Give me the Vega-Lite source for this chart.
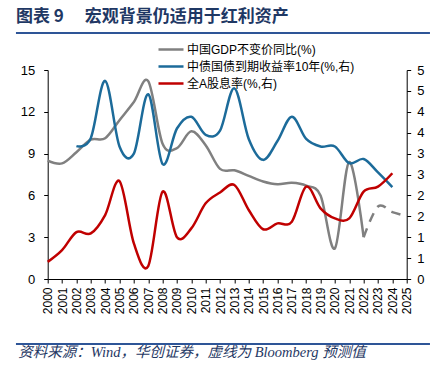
{
  "$schema": "https://vega.github.io/schema/vega-lite/v6.json",
  "width": 359,
  "height": 209,
  "autosize": {"type": "none"},
  "padding": {"left": 47.7, "top": 70, "right": 32.3, "bottom": 88},
  "background": "white",
  "title": {
    "text": "图表 9　 宏观背景仍适用于红利资产",
    "anchor": "start",
    "frame": "bounds",
    "orient": "top",
    "offset": 6,
    "dx": 1,
    "font": "Noto Sans CJK SC",
    "fontSize": 17,
    "fontWeight": "bold",
    "color": "#1f3864"
  },
  "config": {
    "view": {"stroke": null},
    "axis": {
      "grid": false,
      "labelFont": "Liberation Sans",
      "labelFontSize": 13,
      "labelColor": "#000000",
      "domainColor": "#000000",
      "tickColor": "#000000",
      "domainWidth": 1,
      "tickWidth": 1,
      "tickSize": 4,
      "labelOverlap": false,
      "labelBound": false,
      "labelFlush": false
    },
    "legend": {
      "orient": "none",
      "legendX": 109.3,
      "legendY": -27.75,
      "padding": 0,
      "symbolType": "stroke",
      "symbolSize": 625,
      "symbolStrokeWidth": 2.5,
      "clipHeight": 14.5,
      "rowPadding": 2,
      "labelFont": "Liberation Sans, Noto Sans CJK SC",
      "labelFontSize": 12,
      "labelColor": "#000000",
      "labelOffset": 2,
      "labelLimit": 400
    }
  },
  "datasets": {
    "gdp": [
      {"year": 2000, "series": "中国GDP不变价同比(%)", "value": 8.5},
      {"year": 2001, "series": "中国GDP不变价同比(%)", "value": 8.3},
      {"year": 2002, "series": "中国GDP不变价同比(%)", "value": 9.1},
      {"year": 2003, "series": "中国GDP不变价同比(%)", "value": 10.0},
      {"year": 2004, "series": "中国GDP不变价同比(%)", "value": 10.1},
      {"year": 2005, "series": "中国GDP不变价同比(%)", "value": 11.4},
      {"year": 2006, "series": "中国GDP不变价同比(%)", "value": 12.7},
      {"year": 2007, "series": "中国GDP不变价同比(%)", "value": 14.2},
      {"year": 2008, "series": "中国GDP不变价同比(%)", "value": 9.7},
      {"year": 2009, "series": "中国GDP不变价同比(%)", "value": 9.4},
      {"year": 2010, "series": "中国GDP不变价同比(%)", "value": 10.6},
      {"year": 2011, "series": "中国GDP不变价同比(%)", "value": 9.6},
      {"year": 2012, "series": "中国GDP不变价同比(%)", "value": 7.9},
      {"year": 2013, "series": "中国GDP不变价同比(%)", "value": 7.8},
      {"year": 2014, "series": "中国GDP不变价同比(%)", "value": 7.4},
      {"year": 2015, "series": "中国GDP不变价同比(%)", "value": 7.0},
      {"year": 2016, "series": "中国GDP不变价同比(%)", "value": 6.8},
      {"year": 2017, "series": "中国GDP不变价同比(%)", "value": 6.9},
      {"year": 2018, "series": "中国GDP不变价同比(%)", "value": 6.7},
      {"year": 2019, "series": "中国GDP不变价同比(%)", "value": 6.0},
      {"year": 2020, "series": "中国GDP不变价同比(%)", "value": 2.2},
      {"year": 2021, "series": "中国GDP不变价同比(%)", "value": 8.4},
      {"year": 2022, "series": "中国GDP不变价同比(%)", "value": 3.0}
    ],
    "gdpf": [
      {"year": 2022, "series": "中国GDP不变价同比(%)", "value": 3.0},
      {"year": 2023, "series": "中国GDP不变价同比(%)", "value": 5.2},
      {"year": 2024, "series": "中国GDP不变价同比(%)", "value": 4.8},
      {"year": 2025, "series": "中国GDP不变价同比(%)", "value": 4.5}
    ],
    "bond": [
      {"year": 2002, "series": "中债国债到期收益率10年(%,右)", "value": 3.18},
      {"year": 2003, "series": "中债国债到期收益率10年(%,右)", "value": 3.37},
      {"year": 2004, "series": "中债国债到期收益率10年(%,右)", "value": 4.74},
      {"year": 2005, "series": "中债国债到期收益率10年(%,右)", "value": 3.17},
      {"year": 2006, "series": "中债国债到期收益率10年(%,右)", "value": 3.0},
      {"year": 2007, "series": "中债国债到期收益率10年(%,右)", "value": 4.42},
      {"year": 2008, "series": "中债国债到期收益率10年(%,右)", "value": 2.75},
      {"year": 2009, "series": "中债国债到期收益率10年(%,右)", "value": 3.6},
      {"year": 2010, "series": "中债国债到期收益率10年(%,右)", "value": 3.88},
      {"year": 2011, "series": "中债国债到期收益率10年(%,右)", "value": 3.45},
      {"year": 2012, "series": "中债国债到期收益率10年(%,右)", "value": 3.55},
      {"year": 2013, "series": "中债国债到期收益率10年(%,右)", "value": 4.56},
      {"year": 2014, "series": "中债国债到期收益率10年(%,右)", "value": 3.35},
      {"year": 2015, "series": "中债国债到期收益率10年(%,右)", "value": 2.85},
      {"year": 2016, "series": "中债国债到期收益率10年(%,右)", "value": 3.3},
      {"year": 2017, "series": "中债国债到期收益率10年(%,右)", "value": 3.88},
      {"year": 2018, "series": "中债国债到期收益率10年(%,右)", "value": 3.35},
      {"year": 2019, "series": "中债国债到期收益率10年(%,右)", "value": 3.17},
      {"year": 2020, "series": "中债国债到期收益率10年(%,右)", "value": 3.17},
      {"year": 2021, "series": "中债国债到期收益率10年(%,右)", "value": 2.77},
      {"year": 2022, "series": "中债国债到期收益率10年(%,右)", "value": 2.87},
      {"year": 2023, "series": "中债国债到期收益率10年(%,右)", "value": 2.55},
      {"year": 2024, "series": "中债国债到期收益率10年(%,右)", "value": 2.2}
    ],
    "div": [
      {"year": 2000, "series": "全A股息率(%,右)", "value": 0.41},
      {"year": 2001, "series": "全A股息率(%,右)", "value": 0.69},
      {"year": 2002, "series": "全A股息率(%,右)", "value": 1.12},
      {"year": 2003, "series": "全A股息率(%,右)", "value": 1.09},
      {"year": 2004, "series": "全A股息率(%,右)", "value": 1.53},
      {"year": 2005, "series": "全A股息率(%,右)", "value": 2.34},
      {"year": 2006, "series": "全A股息率(%,右)", "value": 0.85},
      {"year": 2007, "series": "全A股息率(%,右)", "value": 0.31},
      {"year": 2008, "series": "全A股息率(%,右)", "value": 2.09},
      {"year": 2009, "series": "全A股息率(%,右)", "value": 1.0},
      {"year": 2010, "series": "全A股息率(%,右)", "value": 1.21},
      {"year": 2011, "series": "全A股息率(%,右)", "value": 1.81},
      {"year": 2012, "series": "全A股息率(%,右)", "value": 2.07},
      {"year": 2013, "series": "全A股息率(%,右)", "value": 2.25},
      {"year": 2014, "series": "全A股息率(%,右)", "value": 1.65},
      {"year": 2015, "series": "全A股息率(%,右)", "value": 1.19},
      {"year": 2016, "series": "全A股息率(%,右)", "value": 1.33},
      {"year": 2017, "series": "全A股息率(%,右)", "value": 1.37},
      {"year": 2018, "series": "全A股息率(%,右)", "value": 2.21},
      {"year": 2019, "series": "全A股息率(%,右)", "value": 1.69},
      {"year": 2020, "series": "全A股息率(%,右)", "value": 1.45},
      {"year": 2021, "series": "全A股息率(%,右)", "value": 1.45},
      {"year": 2022, "series": "全A股息率(%,右)", "value": 2.09},
      {"year": 2023, "series": "全A股息率(%,右)", "value": 2.21},
      {"year": 2024, "series": "全A股息率(%,右)", "value": 2.53}
    ],
    "frame": [
      {"x1": 1997.79, "x2": 2026.62, "y": 17.656},
      {"x1": 1997.79, "x2": 2026.62, "y": -4.665}
    ]
  },
  "layer": [
    {
      "data": {"name": "gdp"},
      "mark": {"type": "line", "interpolate": "cardinal", "strokeWidth": 2.5},
      "encoding": {
        "x": {
          "field": "year",
          "type": "quantitative",
          "scale": {"domain": [2000, 2025], "nice": false, "zero": false},
          "axis": {
            "values": [2000, 2001, 2002, 2003, 2004, 2005, 2006, 2007, 2008, 2009, 2010, 2011, 2012, 2013, 2014, 2015, 2016, 2017, 2018, 2019, 2020, 2021, 2022, 2023, 2024, 2025],
            "tickCount": 40,
            "format": "d",
            "labelAngle": -90,
            "labelFontSize": 12,
            "labelPadding": 4,
            "tickSize": 4,
            "title": "资料来源：Wind，华创证券，虚线为 Bloomberg 预测值",
            "titleX": -30,
            "titleY": 73,
            "titleAngle": 0,
            "titleAlign": "left",
            "titleBaseline": "middle",
            "titleFont": "Liberation Serif, Noto Sans CJK SC",
            "titleFontSize": 14.5,
            "titleFontStyle": "italic",
            "titleFontWeight": "normal",
            "titleColor": "#1f3864"
          }
        },
        "y": {
          "field": "value",
          "type": "quantitative",
          "scale": {"domain": [0, 15], "nice": false, "zero": false},
          "axis": {
            "orient": "left",
            "values": [0, 3, 6, 9, 12, 15],
            "tickCount": 20,
            "title": null,
            "labelPadding": 9
          }
        },
        "color": {
          "field": "series",
          "type": "nominal",
          "scale": {
            "domain": ["中国GDP不变价同比(%)", "中债国债到期收益率10年(%,右)", "全A股息率(%,右)"],
            "range": ["#808080", "#1c6b9a", "#c00000"]
          },
          "legend": {"title": null}
        }
      }
    },
    {
      "data": {"name": "gdpf"},
      "mark": {"type": "line", "interpolate": "cardinal", "strokeWidth": 2.5, "strokeDash": [9.5, 7]},
      "encoding": {
        "x": {"field": "year", "type": "quantitative"},
        "y": {"field": "value", "type": "quantitative", "scale": {"domain": [0, 15], "nice": false, "zero": false}, "axis": null},
        "color": {"field": "series", "type": "nominal"}
      }
    },
    {
      "data": {"name": "frame"},
      "mark": {"type": "rule", "color": "#2e5597", "strokeWidth": 2},
      "encoding": {
        "x": {"field": "x1", "type": "quantitative"},
        "x2": {"field": "x2"},
        "y": {"field": "y", "type": "quantitative", "scale": {"domain": [0, 15], "nice": false, "zero": false}, "axis": null}
      }
    },
    {
      "data": {"name": "bond"},
      "mark": {"type": "line", "interpolate": "cardinal", "strokeWidth": 2.5},
      "encoding": {
        "x": {"field": "year", "type": "quantitative"},
        "y": {
          "field": "value",
          "type": "quantitative",
          "scale": {"domain": [0, 5], "nice": false, "zero": false},
          "axis": {
            "orient": "right",
            "values": [0, 0.5, 1, 1.5, 2, 2.5, 3, 3.5, 4, 4.5, 5],
            "tickCount": 20,
            "format": ".0f",
            "title": null,
            "labelPadding": 6
          }
        },
        "color": {"field": "series", "type": "nominal"}
      }
    },
    {
      "data": {"name": "div"},
      "mark": {"type": "line", "interpolate": "cardinal", "strokeWidth": 2.5},
      "encoding": {
        "x": {"field": "year", "type": "quantitative"},
        "y": {"field": "value", "type": "quantitative", "scale": {"domain": [0, 5], "nice": false, "zero": false}, "axis": null},
        "color": {"field": "series", "type": "nominal"}
      }
    }
  ],
  "resolve": {"scale": {"y": "independent"}}
}
